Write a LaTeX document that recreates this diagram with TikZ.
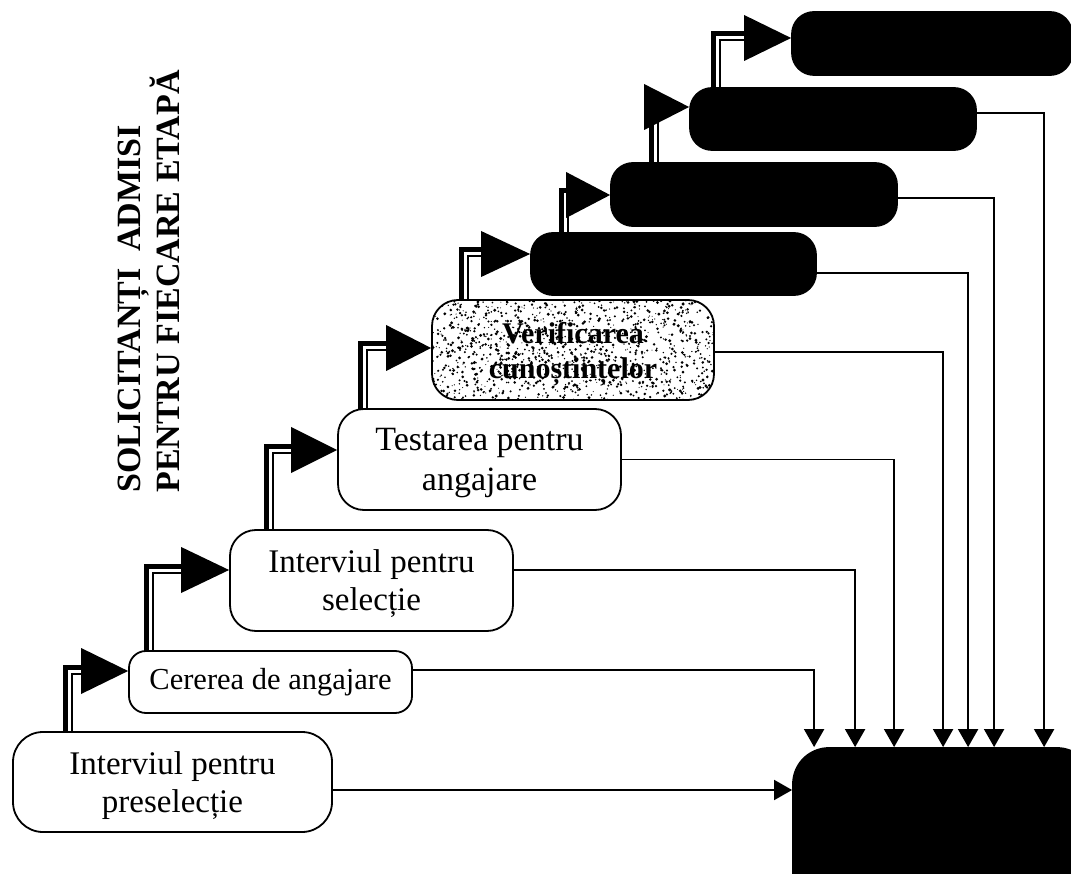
\documentclass[tikz,border=0pt]{standalone}
\usepackage{fontspec}
\setmainfont{Liberation Serif}
\usetikzlibrary{arrows.meta,calc,backgrounds}

% double "rail" from the top of one stage up and over to the next stage
\newcommand\stagerail[2]{%
  \draw[railthick] ($(#1)+(-4,-4)$) |- ($(#2)+(-38,-4)$);
  \draw[railthin]  ($(#1)+(2.5,2.5)$) |- ($(#2)+(-38,2.5)$);
}
% large solid arrow head ending at a stage
\newcommand\stagetip[2]{%
  \fill[black] (#1) -- ++(-#2,-23) -- ++(0,46) -- cycle;
}

\begin{document}
\begin{tikzpicture}[x=1pt,y=-1pt,
  stage/.style={draw=black,line width=1.8pt,fill=white,rounded corners=26pt,
                align=center,inner sep=0pt},
  darkstage/.style={draw=black,line width=1.8pt,fill=black,rounded corners=22pt,
                inner sep=0pt},
  boxfont/.style={font=\fontsize{33}{38}\selectfont},
  feed/.style={line width=1.8pt,-{Triangle[length=18pt,width=20pt]}},
  railthick/.style={line width=5pt},
  railthin/.style={line width=2pt},
]
\useasboundingbox (0,0) rectangle (1071,874);
\clip (0,0) rectangle (1071,874);

% ---- stages ----
\node[stage,boxfont,text depth=-1pt,minimum width=319pt,minimum height=100pt,rounded corners=30pt]
  (b1) at (172.5,782) {Interviul pentru\\preselecție};
\node[stage,font=\fontsize{30.5}{36}\selectfont,minimum width=283pt,minimum height=62pt,
  rounded corners=17pt] (b2) at (270.5,682) {Cererea de angajare};
\node[stage,boxfont,text depth=-1pt,minimum width=283pt,minimum height=101pt]
  (b3) at (371.5,580.5) {Interviul pentru\\selecție};
\node[stage,font=\fontsize{34}{40}\selectfont,text depth=-9pt,minimum width=283pt,minimum height=101pt]
  (b4) at (479.5,459.5) {Testarea pentru\\angajare};
% speckled stage: random grain inside the rounded box
\node[stage,font=\bfseries\fontsize{30}{35}\selectfont,text depth=-8pt,
  minimum width=282pt,minimum height=100pt,
  path picture={%
    \pgfmathsetseed{42}%
    \foreach \k in {1,...,1300}{%
      \fill[black] ($(path picture bounding box.center)+({143*rand},{52*rand})$)
        circle ({0.5+1.1*rnd});
    }%
  }] (b5) at (573,350) {Verificarea\\cunoștințelor};
\node[darkstage,minimum width=285pt,minimum height=62pt] (b6) at (673.5,264) {};
\node[darkstage,minimum width=286pt,minimum height=63pt] (b7) at (754,194.5) {};
\node[darkstage,minimum width=286pt,minimum height=62pt] (b8) at (833,119) {};
\node[darkstage,minimum width=280pt,minimum height=63pt] (b9) at (932,43.5) {};
\node[darkstage,minimum width=300pt,minimum height=160pt,rounded corners=36pt]
  (b10) at (943,828) {};

% ---- side title ----
\node[rotate=90,anchor=east,align=left,inner sep=0pt,
  font=\bfseries\fontsize{34}{37}\selectfont] (title) at (149,70)
  {SOLICITANȚI\ \ ADMISI\\PENTRU FIECARE ETAPĂ};

% ---- arrow tip points on the left side of each stage ----
\coordinate (t2) at ($(b2.west)+(0,-11)$);
\coordinate (t3) at ($(b3.west)+(0,-10.5)$);
\coordinate (t4) at ($(b4.west)+(0,-9.5)$);
\coordinate (t5) at ($(b5.west)+(0,-2)$);
\coordinate (t6) at ($(b6.west)+(0,-10)$);
\coordinate (t7) at ($(b7.west)+(0,0.5)$);
\coordinate (t8) at ($(b8.west)+(0,-12)$);
\coordinate (t9) at ($(b9.west)+(0,-5.5)$);

% ---- rail start points on the top of each stage ----
\coordinate (r1) at ($(b1.north west)+(57.5,6)$);
\coordinate (r2) at ($(b2.north west)+(22,6)$);
\coordinate (r3) at ($(b3.north west)+(41,6)$);
\coordinate (r4) at ($(b4.north west)+(27,6)$);
\coordinate (r5) at ($(b5.north west)+(34.5,6)$);
\coordinate (r6) at ($(b6.north west)+(35,6)$);
\coordinate (r7) at ($(b7.north west)+(45,6)$);
\coordinate (r8) at ($(b8.north west)+(28,6)$);

\begin{pgfonlayer}{background}
  \fill[white] (0,0) rectangle (1071,874);
  \stagerail{r1}{t2}
  \stagerail{r2}{t3}
  \stagerail{r3}{t4}
  \stagerail{r4}{t5}
  \stagerail{r5}{t6}
  \stagerail{r6}{t7}
  \stagerail{r7}{t8}
  \stagerail{r8}{t9}
\end{pgfonlayer}

\stagetip{t2}{47}
\stagetip{t3}{48}
\stagetip{t4}{46}
\stagetip{t5}{45}
\stagetip{t6}{49}
\stagetip{t7}{44}
\stagetip{t8}{45}
\stagetip{t9}{47}

% ---- feeds into the final stage ----
\coordinate (f1) at ($(b1.east)+(0,8)$);
\draw[feed] (f1) -- (f1 -| b10.west);
\draw[feed] ($(b2.east)+(0,-12)$) -| ($(b10.north west)+(22,0)$);
\draw[feed] ($(b3.east)+(0,-10.5)$) -| ($(b10.north west)+(63,0)$);
\draw[feed] ($(b4.east)+(0,0)$) -| ($(b10.north west)+(102,0)$);
\draw[feed] ($(b5.east)+(0,2)$) -| ($(b10.north west)+(151,0)$);
\draw[feed] ($(b6.east)+(0,9)$) -| ($(b10.north west)+(176,0)$);
\draw[feed] ($(b7.east)+(0,3.5)$) -| ($(b10.north west)+(202,0)$);
\draw[feed] ($(b8.east)+(0,-6)$) -| ($(b10.north west)+(252,0)$);
\end{tikzpicture}
\end{document}
